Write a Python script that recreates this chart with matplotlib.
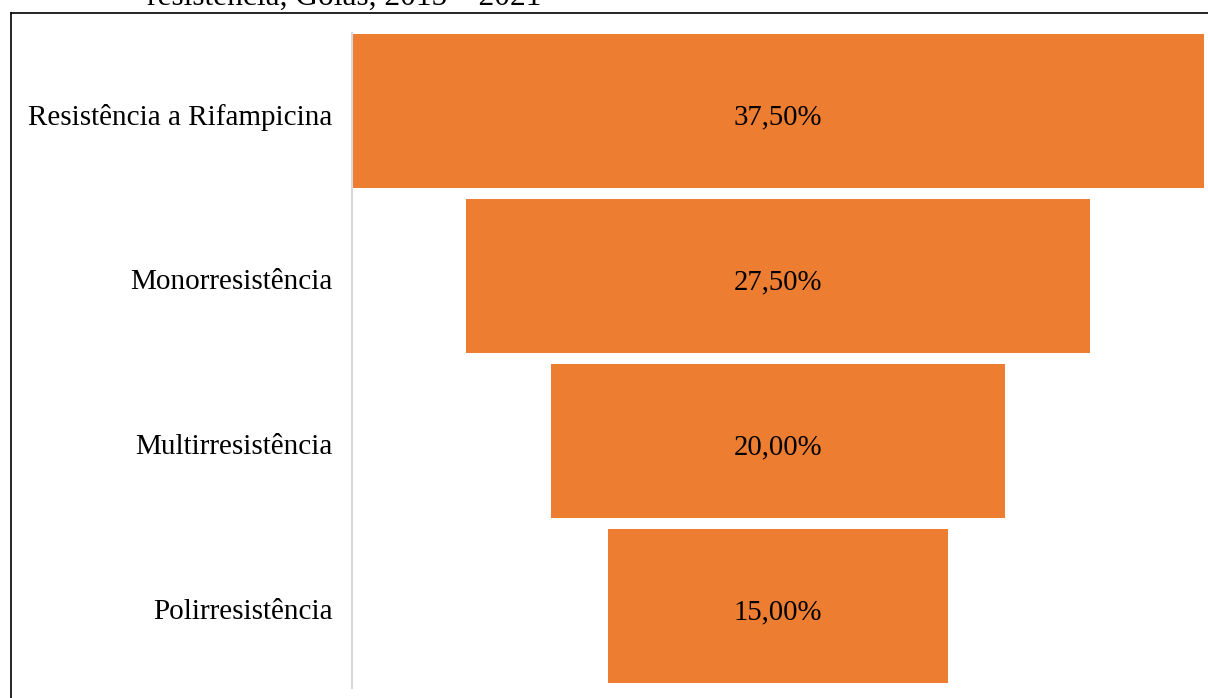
import numpy as np
import matplotlib
matplotlib.use('Agg')
import matplotlib.pyplot as plt
from matplotlib.lines import Line2D
from matplotlib.transforms import ScaledTranslation

categorias = ['Resistência a Rifampicina', 'Monorresistência', 'Multirresistência', 'Polirresistência']
valores = [37.5, 27.5, 20.0, 15.0]
rotulos = ['37,50%', '27,50%', '20,00%', '15,00%']
titulo = 'resistência, Goiás, 2015 – 2021'

plt.rcParams['font.family'] = ['Liberation Serif', 'DejaVu Serif']

W, H = 1208, 698
fig = plt.figure(figsize=(W / 100, H / 100), dpi=100)

# axes placed so the funnel sits where it does in the source
ax = fig.add_axes([352 / W, 1 - 688 / H, (1204 - 352) / W, (688 - 33) / H])

pos = np.arange(len(valores))
vals = np.array(valores)
ax.barh(pos, vals, left=-vals / 2, height=0.933, color='#ED7D31', edgecolor='none')

# text sits a few pixels below the bar centre in the source
desce = ScaledTranslation(0, -3 / 100, fig.dpi_scale_trans)

for p, r in zip(pos, rotulos):
    ax.text(0, p, r, ha='center', va='center_baseline', fontsize=20.7, color='black',
            transform=ax.transData + desce)

ax.set_xlim(-max(valores) / 2, max(valores) / 2)
ax.set_ylim(3.497, -0.473)
ax.set_yticks(pos)
ax.set_yticklabels(categorias, fontsize=21, va='center_baseline')
ax.tick_params(axis='y', length=0, pad=14)
for lbl in ax.get_yticklabels():
    lbl.set_transform(lbl.get_transform() + desce)
ax.set_xticks([])
for s in ['top', 'right', 'bottom']:
    ax.spines[s].set_visible(False)
ax.spines['left'].set_color('#d9d9d9')
ax.spines['left'].set_linewidth(1.5)

# outer frame of the figure box (only top and left edges visible in the crop)
fig.add_artist(Line2D([11 / W, 11 / W], [1 - 13 / H, 0], color='black', lw=1.2))
fig.add_artist(Line2D([11 / W, 1], [1 - 13 / H, 1 - 13 / H], color='black', lw=1.2))

# title, cut off at the top edge as in the source
fig.text(147 / W, 1 - 5 / H, titulo, ha='left', va='baseline', fontsize=22.6)

fig.savefig('out.png', dpi=100)
